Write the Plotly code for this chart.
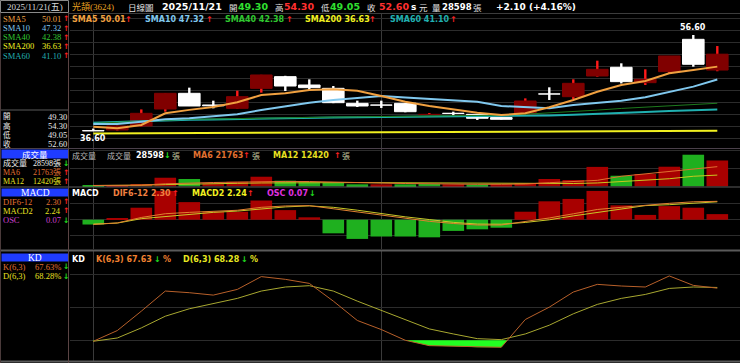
import plotly.graph_objects as go

W, H = 740, 363

# ---------------- data ----------------
header_date = "2025/11/21(五)"
stock_name = "光頡(3624)"
chart_kind = "日線圖"
last_date = "2025/11/21"
idx = list(range(27))

opens  = [36.68, 36.81, 37.64, 41.18, 44.45, 42.02, 41.32, 45.49, 47.92, 46.18, 45.49, 42.36, 42.02, 42.37,
          40.00, 40.30, 40.07, 39.40, 40.14, 44.33, 43.75, 48.06, 49.87, 46.67, 48.96, 55.70, 49.30]
highs  = [37.10, 37.70, 41.10, 44.45, 45.63, 42.92, 45.00, 48.30, 48.10, 47.36, 45.97, 42.92, 42.92, 42.40,
          40.15, 40.63, 40.07, 39.45, 43.40, 45.70, 47.37, 51.25, 50.70, 49.45, 52.23, 56.60, 54.30]
lows   = [36.60, 36.70, 37.50, 40.63, 41.80, 41.32, 41.20, 44.59, 44.93, 45.14, 42.40, 41.60, 41.40, 40.50,
          39.95, 39.58, 38.90, 39.00, 40.00, 43.06, 43.20, 47.90, 46.50, 46.18, 48.60, 50.00, 49.05]
closes = [36.62, 37.64, 40.28, 44.45, 41.81, 41.85, 43.75, 48.27, 45.97, 45.63, 42.50, 41.81, 41.98, 40.62,
          40.07, 40.25, 39.25, 39.04, 42.85, 44.29, 46.53, 49.45, 46.88, 47.37, 52.23, 50.50, 52.60]

sma5   = [37.50, 37.16, 37.85, 40.28, 41.00, 41.60, 42.60, 44.10, 44.45, 45.14, 45.28, 45.00, 43.89, 42.71,
          41.81, 41.11, 40.42, 39.93, 40.28, 41.53, 43.06, 44.79, 46.18, 47.02, 48.61, 49.31, 50.01]
sma10  = [38.06, 38.06, 38.54, 39.03, 39.24, 39.59, 40.07, 40.97, 41.81, 42.50, 43.06, 43.54, 43.89, 43.60,
          43.27, 43.06, 42.71, 41.81, 41.53, 41.32, 42.02, 42.50, 42.92, 43.61, 44.79, 45.84, 47.32]
sma40  = [38.20, 38.45, 38.70, 38.95, 39.05, 39.10, 39.20, 39.35, 39.40, 39.45, 39.50, 39.55, 39.60, 39.65,
          39.70, 39.75, 39.80, 39.90, 40.10, 40.35, 40.65, 40.95, 41.30, 41.60, 41.90, 42.15, 42.38]
sma60  = [38.34, 38.50, 38.70, 38.89, 38.95, 39.00, 39.10, 39.24, 39.30, 39.35, 39.40, 39.45, 39.50, 39.55,
          39.59, 39.59, 39.59, 39.60, 39.70, 39.85, 40.00, 40.14, 40.35, 40.55, 40.75, 40.95, 41.10]
sma200 = [36.08, 36.10, 36.13, 36.15, 36.17, 36.20, 36.22, 36.25, 36.27, 36.28, 36.30, 36.31, 36.33, 36.35,
          36.36, 36.38, 36.39, 36.41, 36.43, 36.45, 36.47, 36.50, 36.52, 36.55, 36.57, 36.60, 36.63]

volume   = [900, 1000, 2500, 9500, 8100, 3300, 5100, 10600, 6200, 4400, 4000, 2200, 2200, 2200,
            2600, 2200, 1900, 2200, 3300, 8100, 7000, 21500, 11700, 13600, 21700, 35000, 28598]
vol_up   = [False, True, True, True, False, True, True, True, False, False, False, False, True, False,
            False, True, False, True, True, True, True, True, False, True, True, False, True]
vol_ma6  = [900, 900, 1300, 2800, 3800, 4200, 4600, 5200, 5400, 5300, 5000, 4400, 3600, 3100,
            2600, 2400, 2200, 2200, 2500, 4000, 5500, 6600, 11100, 13600, 16600, 19200, 21763]
vol_ma12 = [900, 900, 1200, 1900, 2600, 3000, 3300, 3700, 4000, 4100, 4200, 4100, 4000, 3900,
            3700, 3400, 3100, 2800, 2600, 2800, 3100, 3700, 5500, 7000, 8400, 11100, 12420]

dif  = [-0.60, -0.40, 0.28, 0.75, 0.92, 1.02, 1.18, 1.55, 1.72, 1.76, 1.38, 0.95, 0.55, 0.15,
        -0.20, -0.47, -0.66, -0.66, -0.24, 0.22, 0.74, 1.28, 1.55, 1.82, 2.05, 2.24, 2.30]
macd = [-0.54, -0.42, 0.13, 0.38, 0.70, 0.92, 1.08, 1.31, 1.60, 1.73, 1.55, 1.19, 0.76, 0.36,
        0.02, -0.33, -0.54, -0.56, -0.34, -0.01, 0.48, 0.92, 1.37, 1.76, 1.88, 2.09, 2.24]
osc  = [-0.06, 0.02, 0.15, 0.36, 0.22, 0.10, 0.10, 0.24, 0.12, 0.03, -0.17, -0.24, -0.21, -0.21,
        -0.22, -0.14, -0.12, -0.10, 0.10, 0.23, 0.26, 0.36, 0.18, 0.06, 0.17, 0.15, 0.07]

k_vals = [19.1, 28.9, 46.6, 65.0, 63.5, 61.3, 66.5, 78.2, 75.7, 72.0, 55.8, 38.1, 29.8, 20.0,
          15.1, 14.5, 13.6, 13.6, 39.0, 50.3, 64.1, 71.1, 69.6, 68.7, 78.8, 70.2, 67.63]
d_vals = [19.1, 22.1, 31.3, 42.0, 48.8, 53.4, 58.3, 65.0, 68.7, 69.9, 65.0, 55.8, 47.5, 38.7,
          30.4, 25.8, 21.5, 20.6, 25.8, 33.8, 44.2, 52.8, 58.3, 61.9, 67.4, 68.7, 68.28]
kd_low = 20

# ---------------- styling ----------------
SANS = "DejaVu Sans"
SERIF = "Liberation Serif, Noto Sans CJK TC"
CJK = "Noto Sans CJK TC"
GRID = "#2c2c2c"
GRID_V = "#3a3a3a"
UP_BODY, UP_WICK, DN_BODY = "#800000", "#ff1a1a", "#ffffff"
VOL_RED, VOL_GREEN = "#a80000", "#1fb01f"
C_SMA5, C_SMA10, C_SMA40, C_SMA200, C_SMA60 = "#f0a040", "#80c8ee", "#30c830", "#f0f020", "#20b0b0"
ARR_UP, ARR_DN = "#ff2020", "#20e020"

fig = go.Figure()

up = [c >= o for o, c in zip(opens, closes)]
body_col = [UP_BODY if u else DN_BODY for u in up]
wick_col = [UP_WICK if u else DN_BODY for u in up]

# candles: wicks then bodies
fig.add_trace(go.Bar(x=idx, base=lows, y=[h - l for h, l in zip(highs, lows)], width=0.1,
                     marker=dict(color=wick_col, line=dict(width=0)), xaxis="x", yaxis="y"))
fig.add_trace(go.Bar(x=idx, base=[min(o, c) for o, c in zip(opens, closes)],
                     y=[abs(c - o) for o, c in zip(opens, closes)], width=0.9,
                     marker=dict(color=body_col, line=dict(color=body_col, width=1)), xaxis="x", yaxis="y"))
for vals, col, w in [(sma200, C_SMA200, 2), (sma60, C_SMA60, 2), (sma40, "#1e7a1e", 1),
                     (sma10, C_SMA10, 2), (sma5, C_SMA5, 2)]:
    fig.add_trace(go.Scatter(x=idx, y=vals, mode="lines", line=dict(color=col, width=w),
                             xaxis="x", yaxis="y"))

# volume
fig.add_trace(go.Bar(x=idx, y=volume, width=0.9,
                     marker=dict(color=[VOL_RED if u else VOL_GREEN for u in vol_up], line=dict(width=0)),
                     xaxis="x2", yaxis="y2"))
fig.add_trace(go.Scatter(x=idx, y=vol_ma12, mode="lines", line=dict(color="#c8c820", width=1), xaxis="x2", yaxis="y2"))
fig.add_trace(go.Scatter(x=idx, y=vol_ma6, mode="lines", line=dict(color="#e07030", width=1), xaxis="x2", yaxis="y2"))

# MACD
fig.add_trace(go.Bar(x=idx, y=osc, width=0.9,
                     marker=dict(color=[VOL_RED if v >= 0 else VOL_GREEN for v in osc], line=dict(width=0)),
                     xaxis="x3", yaxis="y3"))
fig.add_trace(go.Scatter(x=idx, y=macd, mode="lines", line=dict(color="#c8c828", width=1), xaxis="x3", yaxis="y5"))
fig.add_trace(go.Scatter(x=idx, y=dif, mode="lines", line=dict(color="#e08030", width=1), xaxis="x3", yaxis="y5"))

# KD oversold fill
def below_polys(xs, ys, lvl):
    polys, cur = [], None
    for i in range(len(xs)):
        y = ys[i]
        if y < lvl:
            if cur is None:
                if i > 0:
                    t = (lvl - ys[i - 1]) / (y - ys[i - 1])
                    cur = [(xs[i - 1] + t * (xs[i] - xs[i - 1]), lvl)]
                else:
                    cur = [(xs[i], lvl)]
            cur.append((xs[i], y))
        elif cur is not None:
            t = (lvl - ys[i - 1]) / (y - ys[i - 1])
            cur.append((xs[i - 1] + t * (xs[i] - xs[i - 1]), lvl))
            polys.append(cur)
            cur = None
    if cur:
        cur.append((xs[-1], lvl))
        polys.append(cur)
    return polys

fx, fy = [], []
for poly in below_polys(idx, k_vals, kd_low):
    fx += [p[0] for p in poly] + [None]
    fy += [p[1] for p in poly] + [None]
fig.add_trace(go.Scatter(x=fx, y=fy, mode="none", fill="toself", fillcolor="#22ff22",
                         xaxis="x4", yaxis="y4"))
fig.add_trace(go.Scatter(x=idx, y=d_vals, mode="lines", line=dict(color="#a8a830", width=1), xaxis="x4", yaxis="y4"))
fig.add_trace(go.Scatter(x=idx, y=k_vals, mode="lines", line=dict(color="#b8602a", width=1), xaxis="x4", yaxis="y4"))

# ---------------- layout ----------------
def py(y):
    return 1 - y / H

xdom = [70 / W, 1.0]
xr = [-(93.3 - 70) / 24.0, (W - 93.3) / 24.0]
xbase = dict(domain=xdom, range=xr, tickvals=[0, 12], showticklabels=False, showgrid=True,
             gridcolor=GRID_V, gridwidth=1, zeroline=False, showline=False, ticks="", fixedrange=True)
ybase = dict(showticklabels=False, showgrid=True, gridcolor=GRID, zeroline=False, showline=False,
             ticks="", fixedrange=True)

layout = dict(
    width=W, height=H, margin=dict(l=0, r=0, t=0, b=0),
    paper_bgcolor="black", plot_bgcolor="black", showlegend=False, barmode="overlay",
    xaxis=dict(xbase, anchor="y"),
    xaxis2=dict(xbase, anchor="y2", matches="x"),
    xaxis3=dict(xbase, anchor="y3", matches="x"),
    xaxis4=dict(xbase, anchor="y4", matches="x"),
    yaxis=dict(ybase, domain=[py(148), py(13)], range=[33.058, 61.183], tick0=0, dtick=2.5, anchor="x"),
    yaxis2=dict(ybase, domain=[py(187), py(149)], range=[-776, 41330], tick0=0, dtick=20000, anchor="x2"),
    yaxis3=dict(ybase, domain=[py(249), py(187)], range=[-0.366, 0.409], tick0=0, dtick=0.2, anchor="x3"),
    yaxis5=dict(ybase, overlaying="y3", range=[-3.66, 4.09], showgrid=False, anchor="x3"),
    yaxis4=dict(ybase, domain=[py(361), py(251)], range=[1.07, 101.6], tickvals=[20, 50, 80], anchor="x4"),
)
fig.update_layout(**layout)

# ---------------- decorations ----------------
shapes = []
def hline(y, x0, x1, col="#555555", w=1):
    shapes.append(dict(type="line", xref="paper", yref="paper", x0=x0 / W, x1=x1 / W, y0=py(y), y1=py(y),
                       line=dict(color=col, width=w)))
def vline(x, y0, y1, col="#555555", w=1):
    shapes.append(dict(type="line", xref="paper", yref="paper", x0=x / W, x1=x / W, y0=py(y0), y1=py(y1),
                       line=dict(color=col, width=w)))
def rect(x0, y0, x1, y1, fill=None, col=None):
    shapes.append(dict(type="rect", xref="paper", yref="paper", x0=x0 / W, x1=x1 / W, y0=py(y1), y1=py(y0),
                       fillcolor=fill if fill else "rgba(0,0,0,0)",
                       line=dict(color=col if col else "rgba(0,0,0,0)", width=1)))

rect(0.5, 0.5, 68.5, 12.5, col="#8a8a8a")
hline(13.5, 69, W, "#3c3c3c")
hline(148.5, 0, W, "#4a404a")
hline(187, 0, W, "#5a5a5a")
hline(250.5, 0, W, "#5a5a5a", 2)
hline(361.5, 0, W, "#5a5a5a", 2)
hline(110, 0, 68.5, "#5a5a5a")
vline(68.5, 13, H, "#5a4444")
vline(0.5, 13, H, "#4a3a3a")
BLUE = "#1f3cff"
rect(1.5, 149.5, 68, 158.5, fill=BLUE)
rect(1.5, 188.5, 68, 196.5, fill=BLUE)
rect(1.5, 253.5, 68, 261.5, fill=BLUE)
fig.update_layout(shapes=shapes)

ann = []
def txt(x, y, s, color, size=8, family=SANS, anchor="left", bold=False):
    ann.append(dict(xref="paper", yref="paper", x=x / W, y=py(y), text=("<b>%s</b>" % s) if bold else s,
                    showarrow=False, xanchor=anchor, yanchor="middle", borderpad=0,
                    font=dict(color=color, size=size, family=family)))

# header
HY = 6.5
HC = 8.5
txt(34.5, HY, header_date, "#d8d8d8", 9, SERIF, "center")
txt(71, HY, stock_name, "#e8a020", 9, SERIF)
txt(127, HY, chart_kind, "#e0e0e0", HC, CJK)
txt(161, HY, last_date, "#ffffff", 9.5, SANS, bold=True)
txt(228, HY, "開", "#e0e0e0", HC, CJK)
txt(237, HY, "%.2f" % opens[-1], "#30e030", 9.5, SANS, bold=True)
txt(274, HY, "高", "#e0e0e0", HC, CJK)
txt(283, HY, "%.2f" % highs[-1], "#ff3030", 9.5, SANS, bold=True)
txt(320, HY, "低", "#e0e0e0", HC, CJK)
txt(329, HY, "%.2f" % lows[-1], "#30e030", 9.5, SANS, bold=True)
txt(366, HY, "收", "#e0e0e0", HC, CJK)
txt(378, HY, "%.2f" % closes[-1], "#ff3030", 9.5, SANS, bold=True)
txt(410, HY, "s", "#ffffff", 9, SANS, bold=True)
txt(418, HY, "元", "#e0e0e0", HC, CJK)
txt(431, HY, "量", "#e0e0e0", HC, CJK)
txt(441, HY, "%d" % volume[-1], "#ffffff", 8.5, SANS, bold=True)
txt(472, HY, "張", "#e0e0e0", HC, CJK)
chg = closes[-1] - closes[-2]
txt(495, HY, "%+.2f (%+.2f%%)" % (chg, chg / closes[-2] * 100), "#ffffff", 9, SANS, bold=True)

# price legend
LY = 19.5
for x0, name, val, col, ax in [(71, "SMA5", sma5[-1], C_SMA5, 128), (144, "SMA10", sma10[-1], C_SMA10, 209),
                               (224, "SMA40", sma40[-1], C_SMA40, 289), (304, "SMA200", sma200[-1], C_SMA200, 373),
                               (389, "SMA60", sma60[-1], C_SMA60, 454)]:
    txt(x0, LY, "%s %.2f" % (name, val), col, 8, SANS, bold=True)
    txt(ax, LY, "↑", ARR_UP, 8, SANS, "center", bold=True)

# price extremes
imax = highs.index(max(highs))
imin = lows.index(min(lows))
ann.append(dict(xref="x", yref="y", x=imax, y=highs[imax], text="<b>%.2f</b>" % highs[imax], showarrow=False,
                xanchor="center", yanchor="bottom", yshift=1, font=dict(color="#ffffff", size=8, family=SANS)))
ann.append(dict(xref="x", yref="y", x=imin, y=lows[imin], text="<b>%.2f</b>" % lows[imin], showarrow=False,
                xanchor="center", yanchor="top", yshift=-1, font=dict(color="#ffffff", size=8, family=SANS)))

# volume legend
VY = 155.5
txt(71, VY, "成交量", "#b8b8b8", 8, CJK)
txt(106, VY, "成交量", "#b8b8b8", 8, CJK)
txt(135, VY, "%d" % volume[-1], "#ffffff", 8, SANS, bold=True)
txt(167, VY, "↓", ARR_DN, 8, SANS, "center", bold=True)
txt(171, VY, "張", "#c8c8a0", 8, CJK)
txt(192, VY, "MA6 %d" % vol_ma6[-1], "#e07030", 8, SANS, bold=True)
txt(247, VY, "↑", ARR_UP, 8, SANS, "center", bold=True)
txt(251, VY, "張", "#c8c8a0", 8, CJK)
txt(272, VY, "MA12 %d" % vol_ma12[-1], "#e8e020", 8, SANS, bold=True)
txt(337, VY, "↑", ARR_UP, 8, SANS, "center", bold=True)
txt(341, VY, "張", "#c8c8a0", 8, CJK)

# MACD legend
MY = 193
txt(71, MY, "MACD", "#ffffff", 8, SANS, bold=True)
txt(112, MY, "DIF6-12 %.2f" % dif[-1], "#f08040", 8, SANS, bold=True)
txt(175, MY, "↑", ARR_UP, 8, SANS, "center", bold=True)
txt(191, MY, "MACD2 %.2f" % macd[-1], "#f0f020", 8, SANS, bold=True)
txt(251, MY, "↑", ARR_UP, 8, SANS, "center", bold=True)
txt(266, MY, "OSC %.2f" % osc[-1], "#e030e0", 8, SANS, bold=True)
txt(312, MY, "↓", ARR_DN, 8, SANS, "center", bold=True)

# KD legend
KY = 259
txt(71, KY, "KD", "#ffffff", 8, SANS, bold=True)
txt(95, KY, "K(6,3) %.2f" % k_vals[-1], "#f08030", 8, SANS, bold=True)
txt(157, KY, "↓", ARR_DN, 8, SANS, "center", bold=True)
txt(162, KY, "%", "#f08030", 8, SANS, bold=True)
txt(182, KY, "D(6,3) %.2f" % d_vals[-1], "#e8e820", 8, SANS, bold=True)
txt(244, KY, "↓", ARR_DN, 8, SANS, "center", bold=True)
txt(249, KY, "%", "#e8e820", 8, SANS, bold=True)

# left info column
def row(y, label, value, col, arrow=None, vcol=None, size=8.5):
    txt(2, y, label, col, size, SERIF)
    txt(62, y, value, vcol if vcol else col, size, SERIF, "right")
    if arrow == "up":
        txt(65.5, y, "↑", ARR_UP, 7.5, SANS, "center", bold=True)
    elif arrow == "dn":
        txt(65.5, y, "↓", ARR_DN, 7.5, SANS, "center", bold=True)

row(19, "SMA5", "%.2f" % sma5[-1], C_SMA5, "up")
row(28.2, "SMA10", "%.2f" % sma10[-1], C_SMA10, "up")
row(37.4, "SMA40", "%.2f" % sma40[-1], C_SMA40, "up")
row(46.4, "SMA200", "%.2f" % sma200[-1], C_SMA200, "up")
row(55.6, "SMA60", "%.2f" % sma60[-1], C_SMA60, "up")

for y, lab, v in [(116.8, "開", opens[-1]), (125.9, "高", highs[-1]), (135.0, "低", lows[-1]), (144.1, "收", closes[-1])]:
    txt(2, y, lab, "#e8e8e8", 7.5, SERIF)
    txt(67.5, y, "%.2f" % v, "#e8e8e8", 8.5, SERIF, "right")

txt(35, 154, "成交量", "#ffffff", 8.5, CJK, "center")
row(163.5, "成交量", "%d張" % volume[-1], "#f0f0f0", "dn", size=8)
row(172.5, "MA6", "%d張" % vol_ma6[-1], "#e07030", "up", size=8)
row(181.2, "MA12", "%d張" % vol_ma12[-1], "#e8e020", "up", size=8)

txt(35, 192.5, "MACD", "#ffffff", 9.5, SERIF, "center")
row(201.7, "DIF6-12", "%.2f" % dif[-1], "#e07030", "up")
row(210.7, "MACD2", "%.2f" % macd[-1], "#e8e020", "up")
row(220, "OSC", "%.2f" % osc[-1], "#d040d0", "dn")

txt(35, 257.5, "KD", "#ffffff", 9.5, SERIF, "center")
row(266.7, "K(6,3)", "%.2f%%" % k_vals[-1], "#e07030", "dn")
row(276, "D(6,3)", "%.2f%%" % d_vals[-1], "#e8e020", "dn")

fig.update_layout(annotations=ann)
fig.write_html("out.html")
